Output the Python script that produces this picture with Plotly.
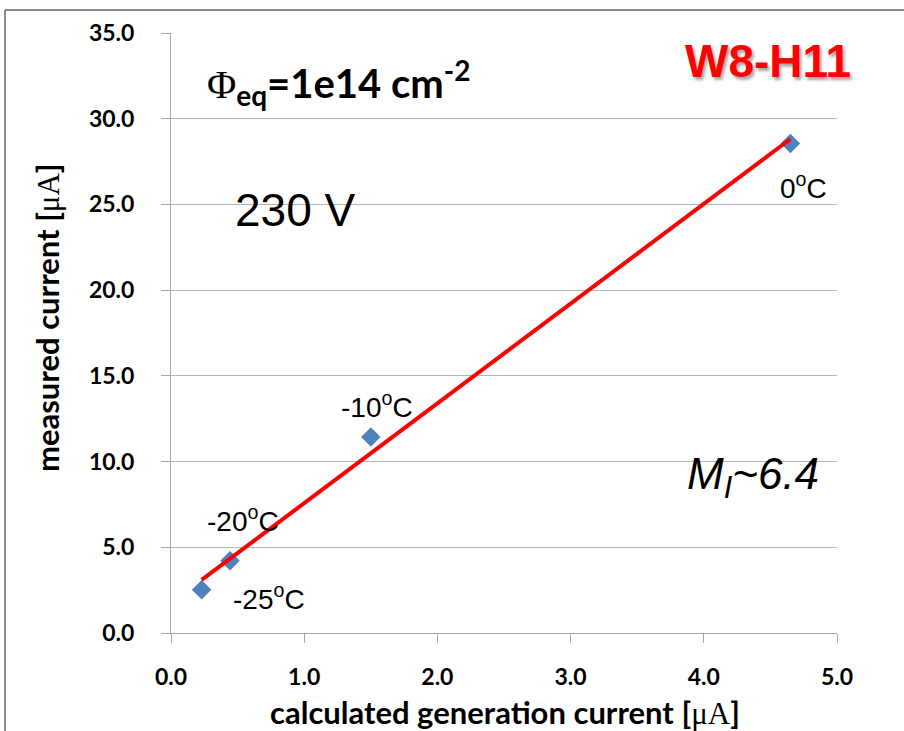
import numpy as np
import plotly.graph_objects as go

# Generation current (calculated) vs. measured leakage current, W8-H11
temps = ["-25", "-20", "-10", "0"]
calc_current = [0.23, 0.443, 1.50, 4.65]      # µA
meas_current = [2.53, 4.22, 11.43, 28.55]     # µA

# label offsets (px) relative to each point
label_dx = [67, 13, 6, 13]
label_dy = [-7, 42, 32, -42]

x_ticks = [0, 1, 2, 3, 4, 5]
y_ticks = [0, 5, 10, 15, 20, 25, 30, 35]

# linear fit through the measured points
slope, intercept = np.polyfit(calc_current, meas_current, 1)
fit_x = [min(calc_current), max(calc_current)]
fit_y = [slope * v + intercept for v in fit_x]

W, H = 904, 731
ML, MR, MT, MB = 171, 67, 33, 98
PW, PH = W - ML - MR, H - MT - MB


def px(xp):
    return (xp - ML) / PW


def py(yp):
    return (H - MB - yp) / PH


calibri = "Lato, 'Open Sans', sans-serif"
arial = "'Liberation Sans', Arial, sans-serif"
serif = "'Liberation Serif', 'Times New Roman', serif"

fig = go.Figure()
fig.add_trace(go.Scatter(
    x=calc_current, y=meas_current, mode="markers",
    marker=dict(symbol="diamond", size=15, color="#4F81BD"),
    showlegend=False, hoverinfo="skip",
))
fig.add_trace(go.Scatter(
    x=fit_x, y=fit_y, mode="lines",
    line=dict(color="#FF0000", width=4),
    showlegend=False, hoverinfo="skip",
))

annotations = []
for t, xv, yv, dx, dy in zip(temps, calc_current, meas_current, label_dx, label_dy):
    annotations.append(dict(
        x=xv, y=yv, xref="x", yref="y", showarrow=False,
        xanchor="center", yanchor="middle",
        text=f"{t}<sup>o</sup>C", xshift=dx, yshift=dy,
        font=dict(family=arial, size=28, color="black"),
    ))

annotations += [
    dict(x=px(205), y=py(82), xref="paper", yref="paper", showarrow=False,
         xanchor="left", yanchor="middle",
         text=(f"<span style=\"font-family:{serif};font-weight:normal\">Φ</span>"
               "<sub>eq</sub>=1e14 cm<sup>-2</sup>"),
         font=dict(family=calibri, size=40, color="black", weight="bold")),
    dict(x=px(295), y=py(210), xref="paper", yref="paper", showarrow=False,
         xanchor="center", yanchor="middle",
         text="230 V", font=dict(family=arial, size=46, color="black")),
    dict(x=px(768), y=py(61), xref="paper", yref="paper", showarrow=False,
         xanchor="center", yanchor="middle",
         text="<b>W8-H11</b>",
         font=dict(family=arial, size=46, color="#FF0000",
                   shadow="2px 3px 3px rgba(0,0,0,0.35)")),
    dict(x=px(753), y=py(477), xref="paper", yref="paper", showarrow=False,
         xanchor="center", yanchor="middle",
         text="<i>M<sub>I</sub>~6.4</i>",
         font=dict(family=arial, size=44, color="black")),
    dict(x=px(47), y=py(318), xref="paper", yref="paper", showarrow=False,
         xanchor="center", yanchor="middle", textangle=-90,
         text=("<b>measured current [</b>"
               f"<span style=\"font-family:{serif}\">μA</span><b>]</b>"),
         font=dict(family=calibri, size=31, color="black")),
    dict(x=px(505), y=py(712), xref="paper", yref="paper", showarrow=False,
         xanchor="center", yanchor="middle",
         text=("<b>calculated generation current [</b>"
               f"<span style=\"font-family:{serif}\">μA</span><b>]</b>"),
         font=dict(family=calibri, size=31, color="black")),
]

# outer frame (top and left edges visible)
shapes = [
    dict(type="line", xref="paper", yref="paper",
         x0=px(5), x1=px(W + 5), y0=py(10), y1=py(10),
         line=dict(color="#8C8C8C", width=2)),
    dict(type="line", xref="paper", yref="paper",
         x0=px(5), x1=px(5), y0=py(10), y1=py(H + 5),
         line=dict(color="#8C8C8C", width=2)),
]

axis_common = dict(
    tickformat=".1f", ticks="outside", ticklen=9, tickcolor="#A6A6A6",
    showline=True, linecolor="#A6A6A6", linewidth=1, zeroline=False,
    tickfont=dict(family=calibri, size=23, color="black", weight="bold"),
)

fig.update_layout(
    width=W, height=H,
    margin=dict(l=ML, r=MR, t=MT, b=MB, pad=0),
    paper_bgcolor="white", plot_bgcolor="white",
    xaxis=dict(range=[0, 5], tickvals=x_ticks, showgrid=False,
               ticklabelstandoff=14, **axis_common),
    yaxis=dict(range=[0, 35], tickvals=y_ticks, showgrid=True,
               gridcolor="#B5B5B5", gridwidth=1,
               ticklabelstandoff=22, **axis_common),
    annotations=annotations,
    shapes=shapes,
)

fig.write_html("out.html")
